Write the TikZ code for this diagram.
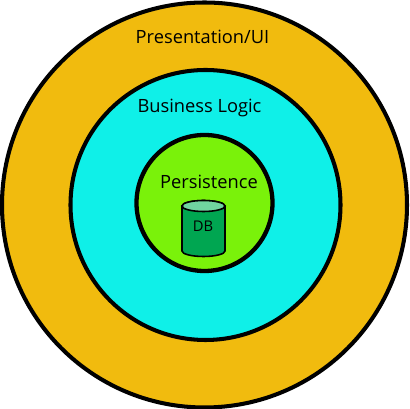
\documentclass[tikz,border=0pt]{standalone}
\usepackage{fontspec}
\setmainfont{Open Sans}
\definecolor{uicolor}{RGB}{241,187,14}
\definecolor{logiccolor}{RGB}{15,240,232}
\definecolor{persistcolor}{RGB}{122,242,10}
\definecolor{dbcolor}{RGB}{0,166,81}
\definecolor{dbtopcolor}{RGB}{112,212,160}
\tikzset{
  layer/.style={draw=black,line width=2.3pt},
  layertext/.style={font=\fontsize{10.4}{13}\selectfont,inner sep=0pt},
  dbline/.style={draw=black,line width=0.9pt}
}
\begin{document}
\begin{tikzpicture}[x=0.02cm,y=0.02cm]
\useasboundingbox (0,0) rectangle (410,409);
\draw[layer,fill=uicolor] (204.5,204) circle (202.5);
\draw[layer,fill=logiccolor] (205.5,204) circle (135);
\draw[layer,line width=2.45pt,fill=persistcolor] (204.5,206) circle (68);
\draw[dbline,fill=dbcolor] (182,203) -- (182,158) arc[start angle=180,end angle=360,x radius=21.5,y radius=5.5] -- (225,203) arc[start angle=0,end angle=180,x radius=21.5,y radius=5.5] -- cycle;
\draw[dbline,fill=dbtopcolor] (203.5,203) ellipse (21.5 and 5.5);
\node[layertext] (ui) at (202.5,372) {Presentation/UI};
\node[layertext] (logic) at (199.5,301.5) {Business Logic};
\node[layertext] (persist) at (209,227) {Persistence};
\node[font=\fontsize{8.4}{10}\selectfont,inner sep=0pt] (db) at (203,182.5) {DB};
\end{tikzpicture}
\end{document}
